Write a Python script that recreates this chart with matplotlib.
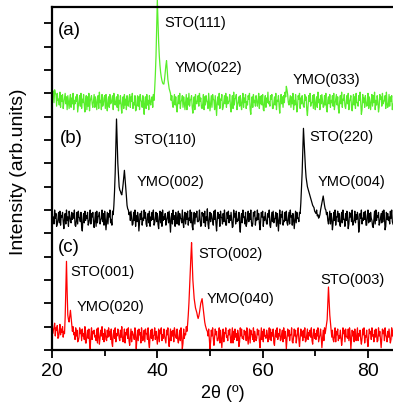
import numpy as np
import matplotlib
matplotlib.use("Agg")
import matplotlib.pyplot as plt

plt.rcParams['font.family'] = ['Liberation Sans', 'DejaVu Sans']

# 2-theta sample grids (degrees): main samples on 0.25 steps, mid samples between them
two_theta_main = np.arange(20.0, 85.0001, 0.25)
two_theta_mid = np.arange(20.125, 85.0, 0.25)

# (a) film on STO(111) - intensity (arb. units)
int_a = [
    1.25, 1.10, 1.15, 0.95,  1.00, 0.75, 1.05, 0.90,  0.95, 0.60, 1.00, 0.85,
    0.90, 0.35, 0.95, 0.80,  1.00, 0.70, 0.85, 0.95,  0.45, 0.90, 1.00, 0.75,
    0.95, 0.20, 0.90, 0.85,  1.00, 0.65, 0.90, 0.40,  0.95, 0.85, 0.30, 0.90,
    1.05, 0.70, 0.95, 0.55,  0.90, 0.95, 0.25, 0.85,  0.95, 0.60, 0.90, 1.00,
    0.50, 0.85, 0.95, 0.70,  0.90, 0.15, 0.85, 0.95,  0.75, 0.90, 0.45, 0.95,
    0.85, 1.00, 0.60, 0.90,  0.30, 0.90, 0.85, 0.95,  0.65, 0.90, 0.10, 0.85,
    0.95, 0.70, 0.90, 0.50,  0.85, 0.95, 1.20, 2.60,  5.00, 3.20, 2.20, 1.70,
    1.45, 1.40, 1.90, 2.40,  1.60, 1.20, 1.00, 0.90,  0.40, 0.95, 0.85, 0.20,
    0.90, 1.00, 0.65, 0.90,  0.85, 0.30, 0.95, 0.80,  1.00, 0.70, 0.90, 0.15,
    0.85, 0.95, 0.55, 0.90,  1.00, 0.80, 0.35, 0.95,  0.85, 0.90, 0.60, 1.00,
    0.25, 0.90, 0.95, 0.70,  0.90, 0.05, 0.85, 1.00,  0.75, 0.95, 0.40, 0.90,
    1.00, 0.85, 0.60, 0.95,  0.20, 0.90, 1.05, 0.75,  0.95, 0.50, 0.85, 0.90,
    0.30, 1.00, 0.80, 0.95,  0.65, 0.90, 1.00, 0.10,  0.85, 0.95, 0.70, 0.90,
    0.45, 1.00, 0.85, 0.90,  0.95, 0.25, 0.90, 0.80,  1.05, 0.65, 0.90, 0.95,
    0.35, 0.85, 1.00, 0.70,  0.90, 0.15, 0.95, 0.85,  0.90, 1.05, 1.30, 0.95,
    0.50, 0.90, 0.85, 1.00,  0.70, 0.95, 0.20, 0.90,  1.00, 0.80, 0.90, 0.45,
    0.95, 0.85, 0.05, 0.90,  1.00, 0.60, 0.90, 0.95,  0.30, 0.85, 1.05, 0.75,
    0.90, 0.95, 0.40, 0.90,  1.00, 0.20, 0.85, 0.95,  0.70, 0.90, 1.00, 0.55,
    0.95, 0.85, 0.15, 0.90,  1.05, 0.75, 0.95, 0.35,  0.90, 1.00, 0.65, 0.90,
    0.25, 0.95, 0.85, 1.00,  0.60, 0.90, 1.05, 0.10,  0.95, 0.80, 0.90, 0.45,
    1.00, 0.85, 0.30, 0.95,  0.90, 1.05, 0.70, 0.90,  0.20, 0.95, 0.85, 1.00,
    0.65, 0.90, 1.05, 0.40,  0.95, 0.85, 0.90, 0.50,  0.95,
]
int_a_mid = [
    1.05, 0.60, 1.00, 0.45,  0.70, 0.50, 0.40, 0.65,  0.35, 0.80, 0.55, 0.30,
    0.60, 0.75, 0.40, 0.55,  0.30, 0.55, 0.65, 0.20,  0.70, 0.45, 0.35, 0.60,
    0.50, 0.65, 0.30, 0.45,  0.25, 0.80, 0.55, 0.70,  0.40, 0.55, 0.75, 0.35,
    0.60, 0.30, 0.45, 0.80,  0.35, 0.50, 0.70, 0.40,  0.55, 0.75, 0.30, 0.60,
    0.70, 0.40, 0.25, 0.55,  0.45, 0.60, 0.35, 0.50,  0.30, 0.55, 0.80, 0.40,
    0.65, 0.35, 0.50, 0.25,  0.60, 0.45, 0.30, 0.70,  0.40, 0.55, 0.65, 0.35,
    0.50, 0.30, 0.60, 0.75,  0.40, 0.70, 1.80, 3.80,  4.10, 2.60, 1.90, 1.55,
    1.40, 1.60, 2.20, 2.00,  1.40, 1.10, 0.70, 0.55,  0.70, 0.50, 0.45, 0.60,
    0.55, 0.35, 0.70, 0.40,  0.60, 0.65, 0.30, 0.50,  0.45, 0.75, 0.40, 0.55,
    0.30, 0.60, 0.70, 0.45,  0.65, 0.40, 0.55, 0.30,  0.50, 0.70, 0.35, 0.60,
    0.55, 0.40, 0.75, 0.30,  0.45, 0.60, 0.50, 0.35,  0.70, 0.30, 0.65, 0.55,
    0.40, 0.55, 0.70, 0.45,  0.60, 0.35, 0.50, 0.80,  0.30, 0.65, 0.45, 0.55,
    0.70, 0.40, 0.60, 0.35,  0.50, 0.75, 0.30, 0.55,  0.40, 0.60, 0.45, 0.70,
    0.65, 0.35, 0.55, 0.50,  0.30, 0.70, 0.40, 0.60,  0.55, 0.45, 0.75, 0.35,
    0.60, 0.50, 0.30, 0.65,  0.45, 0.70, 0.55, 0.40,  0.60, 0.85, 1.15, 0.60,
    0.70, 0.40, 0.55, 0.30,  0.50, 0.65, 0.45, 0.75,  0.35, 0.55, 0.60, 0.40,
    0.70, 0.30, 0.50, 0.65,  0.45, 0.60, 0.35, 0.55,  0.70, 0.40, 0.60, 0.30,
    0.55, 0.65, 0.45, 0.50,  0.35, 0.70, 0.55, 0.40,  0.60, 0.45, 0.30, 0.75,
    0.50, 0.35, 0.65, 0.55,  0.40, 0.70, 0.45, 0.60,  0.55, 0.30, 0.75, 0.40,
    0.65, 0.50, 0.35, 0.60,  0.45, 0.70, 0.55, 0.30,  0.60, 0.40, 0.65, 0.50,
    0.35, 0.55, 0.70, 0.45,  0.60, 0.30, 0.50, 0.65,  0.40, 0.75, 0.45, 0.55,
    0.70, 0.35, 0.60, 0.50,  0.45, 0.65, 0.30, 0.60,
]

# (b) film on STO(110)
int_b = [
    0.95, 0.70, 1.00, 0.85,  0.40, 0.90, 0.95, 0.75,  0.90, 0.20, 0.85, 1.00,
    0.70, 0.95, 0.50, 0.90,  0.85, 1.00, 0.30, 0.90,  0.95, 0.65, 0.90, 0.10,
    0.85, 0.95, 0.75, 0.90,  0.45, 1.00, 0.85, 0.90,  0.25, 0.90, 0.95, 0.70,
    0.90, 0.55, 1.00, 0.85,  0.95, 0.15, 0.90, 0.85,  1.00, 0.60, 0.95, 1.20,
    2.60, 4.90, 3.00, 2.00,  1.80, 1.65, 2.10, 2.70,  2.00, 1.20, 1.00, 0.90,
    0.95, 0.35, 0.90, 1.00,  0.75, 0.90, 0.10, 0.85,  0.95, 0.65, 1.00, 0.90,
    0.30, 0.85, 0.95, 0.70,  0.90, 1.00, 0.45, 0.90,  0.85, 0.20, 0.95, 0.90,
    1.00, 0.70, 0.85, 0.55,  0.90, 0.95, 0.05, 0.85,  1.00, 0.75, 0.90, 0.40,
    0.95, 0.85, 0.60, 1.00,  0.25, 0.90, 0.85, 0.95,  0.65, 1.00, 0.90, 0.15,
    0.90, 0.85, 0.95, 0.50,  1.00, 0.30, 0.90, 0.85,  0.95, 0.70, 1.05, 0.20,
    0.90, 0.85, 0.55, 0.95,  1.00, 0.10, 0.90, 0.80,  0.95, 0.65, 0.85, 1.00,
    0.35, 0.90, 0.95, 0.75,  0.90, 0.25, 1.00, 0.85,  0.95, 0.60, 0.90, 0.05,
    0.85, 1.00, 0.70, 0.90,  0.45, 0.95, 0.85, 1.00,  0.30, 0.90, 0.95, 0.65,
    1.00, 0.85, 0.15, 0.90,  0.95, 0.70, 0.90, 0.40,  0.85, 1.00, 0.25, 0.90,
    0.95, 0.60, 0.90, 0.85,  0.10, 1.00, 0.80, 0.95,  0.55, 0.90, 0.95, 0.35,
    0.90, 1.00, 0.75, 0.85,  0.20, 0.95, 0.90, 0.65,  0.90, 1.30, 2.60, 4.50,
    3.20, 2.40, 2.00, 1.80,  1.60, 1.40, 1.20, 1.10,  0.90, 1.00, 0.80, 0.70,
    1.00, 1.30, 1.60, 1.20,  1.00, 0.90, 0.40, 0.95,  0.85, 0.15, 0.90, 1.00,
    0.70, 0.95, 0.85, 0.30,  0.90, 1.00, 0.60, 0.85,  0.95, 0.20, 0.90, 0.85,
    1.00, 0.50, 0.95, 0.80,  0.90, 0.05, 0.85, 1.00,  0.65, 0.90, 0.95, 0.35,
    1.00, 0.85, 0.90, 0.55,  0.25, 0.95, 1.00, 0.75,  0.90, 0.45, 0.85, 0.95,
    1.00, 0.15, 0.90, 0.85,  0.70, 0.95, 1.00, 0.40,  0.90,
]
int_b_mid = [
    0.55, 0.40, 0.65, 0.30,  0.60, 0.45, 0.35, 0.70,  0.50, 0.65, 0.40, 0.55,
    0.30, 0.75, 0.45, 0.60,  0.65, 0.35, 0.55, 0.40,  0.70, 0.50, 0.30, 0.60,
    0.45, 0.55, 0.65, 0.35,  0.60, 0.40, 0.70, 0.50,  0.55, 0.30, 0.45, 0.75,
    0.40, 0.65, 0.50, 0.35,  0.60, 0.55, 0.40, 0.70,  0.45, 0.35, 0.80, 1.80,
    3.80, 4.00, 2.50, 1.85,  1.70, 1.85, 2.40, 2.35,  1.60, 1.05, 0.80, 0.55,
    0.65, 0.40, 0.55, 0.30,  0.50, 0.70, 0.45, 0.60,  0.35, 0.55, 0.65, 0.40,
    0.70, 0.45, 0.30, 0.55,  0.60, 0.35, 0.65, 0.50,  0.40, 0.70, 0.45, 0.30,
    0.55, 0.60, 0.35, 0.70,  0.45, 0.50, 0.65, 0.40,  0.60, 0.30, 0.55, 0.75,
    0.35, 0.65, 0.45, 0.50,  0.70, 0.40, 0.60, 0.35,  0.55, 0.45, 0.30, 0.65,
    0.40, 0.70, 0.50, 0.55,  0.60, 0.35, 0.75, 0.45,  0.30, 0.55, 0.40, 0.65,
    0.50, 0.70, 0.35, 0.60,  0.45, 0.55, 0.65, 0.30,  0.70, 0.40, 0.50, 0.60,
    0.35, 0.65, 0.45, 0.55,  0.60, 0.30, 0.70, 0.40,  0.50, 0.55, 0.35, 0.65,
    0.45, 0.70, 0.40, 0.30,  0.65, 0.50, 0.60, 0.45,  0.40, 0.75, 0.35, 0.55,
    0.60, 0.45, 0.50, 0.70,  0.30, 0.55, 0.65, 0.40,  0.70, 0.35, 0.60, 0.50,
    0.45, 0.65, 0.30, 0.55,  0.60, 0.40, 0.70, 0.35,  0.50, 0.55, 0.45, 0.65,
    0.40, 0.70, 0.35, 0.60,  0.55, 0.45, 0.65, 0.50,  0.85, 1.90, 3.60, 3.90,
    2.80, 2.20, 1.90, 1.70,  1.50, 1.30, 1.15, 0.95,  0.85, 0.75, 0.65, 0.80,
    1.15, 1.45, 1.40, 1.05,  0.80, 0.55, 0.70, 0.40,  0.60, 0.45, 0.55, 0.35,
    0.70, 0.50, 0.40, 0.65,  0.45, 0.60, 0.30, 0.55,  0.65, 0.40, 0.70, 0.50,
    0.35, 0.55, 0.45, 0.60,  0.70, 0.30, 0.65, 0.40,  0.55, 0.60, 0.35, 0.75,
    0.45, 0.50, 0.65, 0.30,  0.60, 0.40, 0.55, 0.70,  0.35, 0.65, 0.45, 0.50,
    0.70, 0.30, 0.60, 0.55,  0.40, 0.65, 0.50, 0.35,
]

# (c) film on STO(001)
int_c = [
    1.10, 0.85, 1.15, 0.95,  1.05, 0.55, 1.10, 0.90,  1.00, 0.80, 1.40, 3.80,
    1.50, 1.20, 1.70, 1.10,  1.00, 0.75, 0.95, 0.85,  0.40, 0.95, 0.85, 0.90,
    0.70, 1.00, 0.30, 0.85,  0.90, 0.05, 0.95, 0.80,  0.85, 0.60, 0.90, 0.95,
    0.25, 0.85, 1.00, 0.70,  0.90, 0.45, 0.85, 0.95,  0.80, 0.90, 0.15, 0.85,
    0.95, 0.70, 0.90, 0.50,  0.85, 1.00, 0.35, 0.90,  0.75, 0.90, 0.95, 0.20,
    0.90, 0.80, 0.60, 0.95,  0.05, 0.85, 0.90, 0.75,  0.95, 0.40, 0.85, 0.90,
    0.70, 0.95, 0.10, 0.85,  0.90, 0.60, 0.95, 0.80,  0.25, 0.90, 0.85, 0.95,
    0.65, 0.90, 0.45, 0.85,  0.95, 0.15, 0.90, 0.80,  0.85, 0.95, 0.55, 0.90,
    0.30, 0.85, 0.95, 0.05,  0.90, 0.70, 1.00, 1.10,  2.00, 3.40, 4.60, 3.00,
    2.20, 1.80, 1.60, 1.35,  1.60, 2.00, 2.20, 1.70,  1.20, 0.95, 0.80, 0.90,
    0.05, 0.85, 0.95, 0.20,  0.90, 0.80, 0.40, 0.95,  0.85, 0.10, 0.90, 0.75,
    0.95, 0.60, 0.85, 0.90,  0.30, 0.95, 0.80, 0.90,  0.70, 0.85, 0.15, 0.95,
    0.90, 0.55, 0.85, 0.80,  0.95, 0.25, 0.90, 0.85,  0.65, 0.95, 0.80, 0.40,
    0.90, 0.85, 0.10, 0.95,  0.80, 0.90, 0.60, 0.85,  0.35, 0.95, 0.90, 0.75,
    0.90, 0.20, 0.85, 0.95,  0.70, 0.90, 0.45, 0.85,  0.95, 0.80, 0.05, 0.90,
    0.85, 0.65, 0.95, 0.30,  0.90, 0.85, 0.55, 0.95,  0.15, 0.90, 0.80, 0.85,
    0.95, 0.40, 0.90, 0.75,  0.85, 0.95, 0.25, 0.90,  0.70, 0.85, 0.95, 0.50,
    0.90, 0.10, 0.85, 0.95,  0.90, 1.30, 2.70, 1.50,  0.90, 0.85, 0.35, 0.95,
    0.80, 0.90, 0.60, 0.85,  0.20, 0.95, 0.85, 0.90,  0.55, 0.90, 0.95, 0.05,
    0.85, 0.80, 0.90, 0.40,  0.95, 0.70, 0.85, 0.25,  0.90, 0.95, 0.60, 0.85,
    0.15, 0.90, 0.80, 0.95,  0.65, 0.85, 0.90, 0.35,  0.95, 0.80, 0.10, 0.90,
    0.85, 0.95, 0.55, 0.80,  0.90, 0.30, 0.95, 0.85,  0.90,
]
int_c_mid = [
    0.70, 0.95, 0.60, 0.85,  0.50, 0.80, 0.65, 0.75,  0.55, 0.70, 2.60, 2.50,
    1.30, 1.45, 1.40, 0.80,  0.65, 0.45, 0.60, 0.35,  0.55, 0.70, 0.40, 0.60,
    0.45, 0.30, 0.65, 0.50,  0.35, 0.60, 0.45, 0.70,  0.55, 0.40, 0.30, 0.65,
    0.50, 0.60, 0.45, 0.35,  0.70, 0.40, 0.55, 0.60,  0.45, 0.30, 0.65, 0.50,
    0.35, 0.60, 0.75, 0.40,  0.55, 0.45, 0.60, 0.30,  0.65, 0.50, 0.40, 0.55,
    0.35, 0.70, 0.45, 0.60,  0.50, 0.40, 0.65, 0.30,  0.60, 0.55, 0.35, 0.70,
    0.45, 0.30, 0.60, 0.50,  0.40, 0.65, 0.45, 0.55,  0.60, 0.35, 0.70, 0.40,
    0.50, 0.60, 0.30, 0.65,  0.45, 0.55, 0.40, 0.60,  0.35, 0.70, 0.50, 0.45,
    0.60, 0.40, 0.55, 0.30,  0.50, 0.65, 0.80, 1.50,  2.70, 4.00, 3.80, 2.60,
    2.00, 1.70, 1.45, 1.45,  1.80, 2.10, 1.95, 1.45,  1.05, 0.85, 0.60, 0.45,
    0.35, 0.60, 0.50, 0.55,  0.65, 0.40, 0.55, 0.30,  0.45, 0.60, 0.35, 0.70,
    0.55, 0.40, 0.65, 0.50,  0.60, 0.30, 0.45, 0.55,  0.40, 0.70, 0.35, 0.60,
    0.50, 0.45, 0.65, 0.40,  0.55, 0.60, 0.30, 0.70,  0.45, 0.35, 0.60, 0.50,
    0.65, 0.40, 0.55, 0.45,  0.35, 0.60, 0.50, 0.70,  0.55, 0.45, 0.40, 0.60,
    0.30, 0.65, 0.55, 0.45,  0.60, 0.40, 0.70, 0.35,  0.50, 0.55, 0.45, 0.60,
    0.40, 0.65, 0.35, 0.55,  0.60, 0.30, 0.70, 0.45,  0.50, 0.60, 0.40, 0.55,
    0.35, 0.65, 0.45, 0.60,  0.55, 0.40, 0.70, 0.50,  0.45, 0.60, 0.35, 0.65,
    0.55, 0.50, 0.40, 0.70,  1.10, 2.00, 2.10, 1.20,  0.55, 0.45, 0.60, 0.35,
    0.65, 0.40, 0.50, 0.55,  0.45, 0.70, 0.35, 0.60,  0.50, 0.40, 0.65, 0.45,
    0.60, 0.35, 0.55, 0.70,  0.40, 0.60, 0.45, 0.50,  0.65, 0.30, 0.55, 0.40,
    0.50, 0.70, 0.45, 0.60,  0.35, 0.55, 0.65, 0.40,  0.60, 0.45, 0.50, 0.70,
    0.40, 0.65, 0.35, 0.55,  0.55, 0.45, 0.60, 0.40,
]

panel_labels = ["(a)", "(b)", "(c)"]
peak_labels_a = ["STO(111)", "YMO(022)", "YMO(033)"]
peak_labels_b = ["STO(110)", "YMO(002)", "STO(220)", "YMO(004)"]
peak_labels_c = ["STO(001)", "YMO(020)", "STO(002)", "YMO(040)", "STO(003)"]
x_ticks = [20, 40, 60, 80]


def merge(main, mid):
    """Interleave the main samples with the in-between samples."""
    x = np.empty(len(main) + len(mid))
    y = np.empty_like(x)
    x[0::2] = two_theta_main
    x[1::2] = two_theta_mid
    y[0::2] = main
    y[1::2] = mid
    return x, y


# ---------------- drawing ----------------
W, H = 393, 407
fig = plt.figure(figsize=(W / 100, H / 100), dpi=100)
ax_left, ax_right, ax_top, ax_bot = 52, 394.3, 7, 350
ax = fig.add_axes([ax_left / W, 1 - ax_bot / H, (ax_right - ax_left) / W,
                   (ax_bot - ax_top) / H])

offsets = [10.0, 5.0, 0.0]
colors = ["#58EE2A", "#000000", "#FF0000"]
series = [(int_a, int_a_mid), (int_b, int_b_mid), (int_c, int_c_mid)]
for (main, mid), off, col in zip(series, offsets, colors):
    x, y = merge(main, mid)
    ax.plot(x, y + off, color=col, lw=0.9, clip_on=False, zorder=2)

ax.set_xlim(20, 85)
ax.set_ylim(0, 14.7)
ax.set_xticks(x_ticks)
ax.set_xticks([30, 50, 70], minor=True)
ax.set_yticks(np.arange(0, 15, 1))
ax.set_yticklabels([])
ax.tick_params(axis='both', which='major', direction='out', length=6,
               width=1.3, labelsize=14, pad=3)
ax.tick_params(axis='x', which='minor', direction='out', length=4, width=1.3)
for s in ['left', 'bottom', 'top']:
    ax.spines[s].set_linewidth(1.6)
ax.spines['right'].set_visible(False)

fs_ann = 10.5
fs_pan = 13.5
ax.text(21.1, 13.7, panel_labels[0], fontsize=fs_pan, ha='left', va='center')
ax.text(21.5, 9.05, panel_labels[1], fontsize=fs_pan, ha='left', va='center')
ax.text(21.1, 4.4, panel_labels[2], fontsize=fs_pan, ha='left', va='center')

ann_a = [(41.4, 14.0), (43.3, 12.1), (65.7, 11.55)]
ann_b = [(35.4, 9.0), (36.1, 7.2), (68.8, 9.15), (70.5, 7.2)]
ann_c = [(23.4, 3.35), (24.7, 1.85), (47.7, 4.1), (49.4, 2.2), (70.9, 3.0)]
for labels, pos in [(peak_labels_a, ann_a), (peak_labels_b, ann_b),
                    (peak_labels_c, ann_c)]:
    for lab, (xx, yy) in zip(labels, pos):
        ax.text(xx, yy, lab, fontsize=fs_ann, ha='left', va='center')

fig.text(19 / W, 1 - 171.5 / H, "Intensity (arb.units)", rotation=90,
         fontsize=14, ha='center', va='center')
fig.text(223 / W, 1 - 393 / H, "2θ (º)", fontsize=13, ha='center',
         va='center')

fig.savefig("out.png", dpi=100)
